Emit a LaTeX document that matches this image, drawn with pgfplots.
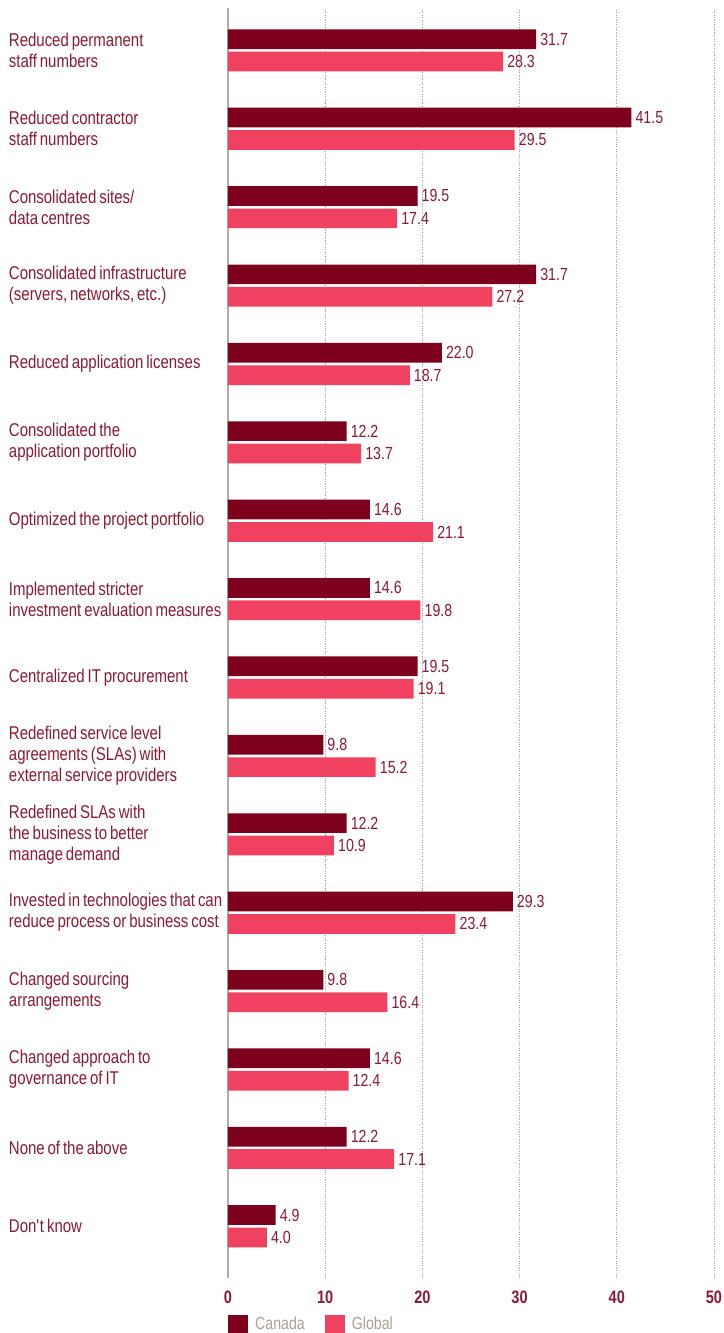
\documentclass[border=0pt]{standalone}
\usepackage{fontspec}
\setmainfont{Liberation Sans}[FakeStretch=0.81, WordSpace=0.7]
\usepackage{pgfplots}
\pgfplotsset{compat=1.18}
\definecolor{canada}{RGB}{125,0,28}
\definecolor{global}{RGB}{240,66,96}
\definecolor{textred}{RGB}{140,25,50}
\definecolor{legendgray}{RGB}{169,160,149}
\definecolor{axisgray}{RGB}{181,171,160}
\definecolor{gridgray}{RGB}{165,160,155}
\newcommand{\lblfont}{\fontsize{18.5bp}{21bp}\selectfont}
\newcommand{\valfont}{\fontsize{17.5bp}{21bp}\selectfont}
\newcommand{\tickfont}{\fontsize{18bp}{21bp}\selectfont}
\begin{document}
\begin{tikzpicture}
\begin{axis}[name=ax, at={(0,0)}, anchor=south west,
  scale only axis, width=486bp, height=1269.4bp,
  xbar, bar width=19.7bp,
  xmin=0, xmax=50, ymin=-0.656, ymax=15.537,
  xtick={0,10,20,30,40,50},
  ytick={0,...,15},
  yticklabels={
    {Don\textquotesingle t know},
    {None of the above},
    {Changed approach to\\governance of IT},
    {Changed sourcing\\arrangements},
    {Invested in technologies that can\\reduce process or business cost},
    {Redefined SLAs with\\the business to better\\manage demand},
    {Redefined service level\\agreements (SLAs) with\\external service providers},
    {Centralized IT procurement},
    {Implemented stricter\\investment evaluation measures},
    {Optimized the project portfolio},
    {Consolidated the\\application portfolio},
    {Reduced application licenses},
    {Consolidated infrastructure\\(servers, networks, etc.)},
    {Consolidated sites/\\data centres},
    {Reduced contractor\\staff numbers},
    {Reduced permanent\\staff numbers}},
  axis line style={draw=none}, tick style={draw=none},
  xmajorgrids, grid style={dotted, gridgray, line width=0.9bp},
  extra x ticks={0}, extra x tick labels={},
  extra x tick style={grid style={solid, axisgray, line width=1.5bp}},
  /pgf/number format/assume math mode=true,
  xticklabel style={font=\bfseries\tickfont, text=textred, yshift=-10bp},
  yticklabel style={font=\lblfont, text=textred, align=left, anchor=west, xshift=-215bp, inner sep=0pt},
  nodes near coords={\pgfmathprintnumber[fixed,fixed zerofill,precision=1]{\pgfplotspointmeta}},
  nodes near coords style={font=\valfont, text=textred, anchor=west, inner sep=0pt, xshift=4bp},
  legend columns=2,
  legend style={at={(0,0)}, anchor=north west, yshift=-37bp, draw=none, fill=none,
    inner sep=0pt, font=\valfont, text=legendgray,
    nodes={inner sep=0pt},
    /tikz/every odd column/.append style={column sep=7bp},
    /tikz/every even column/.append style={column sep=20bp}},
  legend image code/.code={\fill[#1] (0bp,-9bp) rectangle (20bp,9bp);},
]
\addplot[fill=canada, draw=none, bar shift=11.2bp] coordinates {
  (31.7,15) (41.5,14) (19.5,13) (31.7,12) (22.0,11) (12.2,10) (14.6,9) (14.6,8)
  (19.5,7) (9.8,6) (12.2,5) (29.3,4) (9.8,3) (14.6,2) (12.2,1) (4.9,0)};
\addplot[fill=global, draw=none, bar shift=-11.2bp] coordinates {
  (28.3,15) (29.5,14) (17.4,13) (27.2,12) (18.7,11) (13.7,10) (21.1,9) (19.8,8)
  (19.1,7) (15.2,6) (10.9,5) (23.4,4) (16.4,3) (12.4,2) (17.1,1) (4.0,0)};
\legend{Canada, Global}
\end{axis}
\pgfresetboundingbox
\path ([xshift=-228bp,yshift=-55.3bp]ax.south west) rectangle ([xshift=10bp,yshift=8.3bp]ax.north east);
\end{tikzpicture}
\end{document}
